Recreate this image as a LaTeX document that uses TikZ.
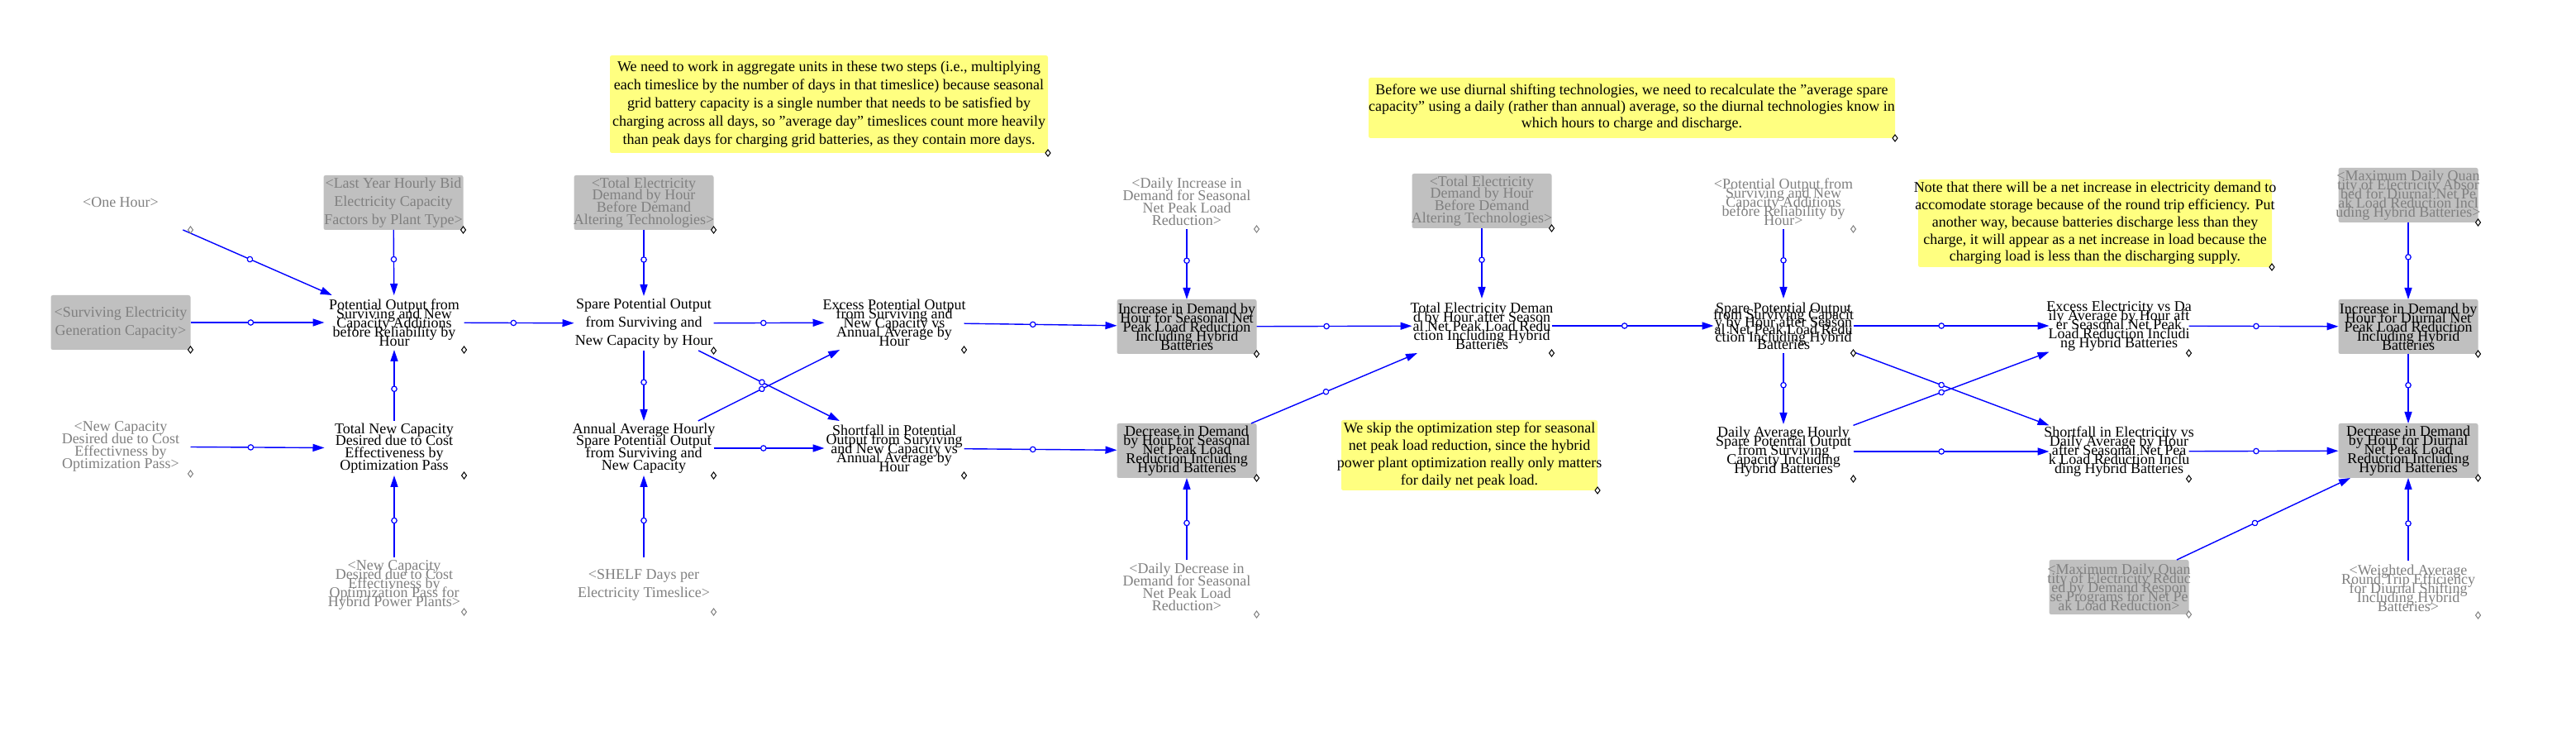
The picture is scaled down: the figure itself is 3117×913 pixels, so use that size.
\documentclass[tikz,border=0pt]{standalone}
\usepackage{fontspec}
\setmainfont{Liberation Serif}
\usetikzlibrary{arrows.meta,decorations.markings}
\definecolor{vblue}{RGB}{0,0,255}
\definecolor{vgray}{RGB}{128,128,128}
\definecolor{vbox}{RGB}{192,192,192}
\definecolor{vnote}{RGB}{255,255,128}
\newcommand{\vlines}[2]{\hbox to 0pt{\hss\vbox{\baselineskip=#1\lineskiplimit=-\maxdimen\let\\\cr\halign{\hfil##\hfil\cr#2\crcr}}\hss}}
\newcommand{\cmk}[2][black]{\draw[#1, fill=white, line width=0.5pt] (#2.south east) ++(0,-4) -- ++(3,4) -- ++(-3,4) -- ++(-3,-4) -- cycle;}
\tikzset{
  nb/.style={rectangle, minimum width=84.5pt, minimum height=33pt, inner sep=0pt, outer sep=0pt, font=\fontsize{9}{11}\selectfont},
  var/.style={nb, text=black},
  shad/.style={nb, text=vgray},
  boxed/.style={nb, fill=vbox, rounded corners=1.2pt, text=black},
  shadbox/.style={nb, fill=vbox, rounded corners=1.2pt, text=vgray},
  note/.style={rectangle, fill=vnote, rounded corners=1.2pt, inner sep=0pt, outer sep=0pt, text=black, font=\fontsize{9}{11}\selectfont},
  link/.style={draw=vblue, line width=0.7pt, -{Triangle[length=7pt,width=4.5pt]},
    postaction={decorate},
    decoration={markings, mark=at position 0.45 with {\draw[vblue, fill=white, line width=0.6pt] (0,0) circle (1.6pt);}}},
}
\begin{document}
\begin{tikzpicture}[x=0.5pt,y=-0.5pt]
\useasboundingbox (0,0) rectangle (3117,913);

% notes
\node[note, minimum width=265pt, minimum height=59pt] (n1) at (1003,126) {\vlines{11pt}{We need to work in aggregate units in these two steps (i.e., multiplying\\each timeslice by the number of days in that timeslice) because seasonal\\grid battery capacity is a single number that needs to be satisfied by\\charging across all days, so "average day" timeslices count more heavily\\than peak days for charging grid batteries, as they contain more days.}};
\node[note, minimum width=318.5pt, minimum height=36.5pt] (n2) at (1974.5,130.5) {\vlines{10pt}{Before we use diurnal shifting technologies, we need to recalculate the "average spare\\capacity" using a daily (rather than annual) average, so the diurnal technologies know in\\which hours to charge and discharge.}};
\node[note, minimum width=214pt, minimum height=53pt] (n3) at (2535,270) {\vlines{10.4pt}{Note that there will be a net increase in electricity demand to\\accomodate storage because of the round trip efficiency. Put\\another way, because batteries discharge less than they\\charge, it will appear as a net increase in load because the\\charging load is less than the discharging supply.}};
\node[note, minimum width=155pt, minimum height=42.5pt] (n4) at (1778,550.5) {\vlines{10.5pt}{We skip the optimization step for seasonal\\net peak load reduction, since the hybrid\\power plant optimization really only matters\\for daily net peak load.}};

% variables
\node[shad] (oneh) at (146,245) {\vlines{11pt}{<One Hour>}};
\node[shadbox] (lastyr) at (476,245) {\vlines{11pt}{<Last Year Hourly Bid\\Electricity Capacity\\Factors by Plant Type>}};
\node[shadbox] (surv) at (146,390) {\vlines{11pt}{<Surviving Electricity\\Generation Capacity>}};
\node[var] (po) at (477,390) {\vlines{5.5pt}{Potential Output from\\Surviving and New\\Capacity Additions\\before Reliability by\\Hour}};
\node[shad] (newcap) at (146,540) {\vlines{7.4pt}{<New Capacity\\Desired due to Cost\\Effectivness by\\Optimization Pass>}};
\node[var] (tnc) at (477,542) {\vlines{7.4pt}{Total New Capacity\\Desired due to Cost\\Effectiveness by\\Optimization Pass}};
\node[shad] (newhyb) at (477,707) {\vlines{5.5pt}{<New Capacity\\Desired due to Cost\\Effectivness by\\Optimization Pass for\\Hybrid Power Plants>}};
\node[shadbox] (totdem) at (779,245) {\vlines{7.4pt}{<Total Electricity\\Demand by Hour\\Before Demand\\Altering Technologies>}};
\node[var] (spare) at (779,391) {\vlines{11pt}{Spare Potential Output\\from Surviving and\\New Capacity by Hour}};
\node[var] (annavg) at (779,542) {\vlines{7.4pt}{Annual Average Hourly\\Spare Potential Output\\from Surviving and\\New Capacity}};
\node[shad] (shelf) at (779,707) {\vlines{11pt}{<SHELF Days per\\Electricity Timeslice>}};
\node[var] (excess) at (1082,390) {\vlines{5.5pt}{Excess Potential Output\\from Surviving and\\New Capacity vs\\Annual Average by\\Hour}};
\node[var] (short) at (1082,542) {\vlines{5.5pt}{Shortfall in Potential\\Output from Surviving\\and New Capacity vs\\Annual Average by\\Hour}};
\node[shad] (dinc) at (1436,244) {\vlines{7.4pt}{<Daily Increase in\\Demand for Seasonal\\Net Peak Load\\Reduction>}};
\node[boxed] (incs) at (1436,395) {\vlines{5.5pt}{Increase in Demand by\\Hour for Seasonal Net\\Peak Load Reduction\\Including Hybrid\\Batteries}};
\node[boxed] (decs) at (1436,545) {\vlines{5.5pt}{Decrease in Demand\\by Hour for Seasonal\\Net Peak Load\\Reduction Including\\Hybrid Batteries}};
\node[shad] (ddec) at (1436,710) {\vlines{7.4pt}{<Daily Decrease in\\Demand for Seasonal\\Net Peak Load\\Reduction>}};
\node[shadbox] (totdemb) at (1793,243) {\vlines{7.4pt}{<Total Electricity\\Demand by Hour\\Before Demand\\Altering Technologies>}};
\node[var] (teafter) at (1793,394) {\vlines{5.5pt}{Total Electricity Deman\\d by Hour after Season\\al Net Peak Load Redu\\ction Including Hybrid\\Batteries}};
\node[shad] (potout) at (2158,244) {\vlines{5.5pt}{<Potential Output from\\Surviving and New\\Capacity Additions\\before Reliability by\\Hour>}};
\node[var] (spare2) at (2158,394) {\vlines{4.4pt}{Spare Potential Output\\from Surviving Capacit\\y by Hour after Season\\al Net Peak Load Redu\\ction Including Hybrid\\Batteries}};
\node[var] (davg) at (2158,546) {\vlines{5.5pt}{Daily Average Hourly\\Spare Potential Output\\from Surviving\\Capacity Including\\Hybrid Batteries}};
\node[var] (exel) at (2564,394) {\vlines{5.5pt}{Excess Electricity vs Da\\ily Average by Hour aft\\er Seasonal Net Peak\\Load Reduction Includi\\ng Hybrid Batteries}};
\node[var] (shel) at (2564,546) {\vlines{5.5pt}{Shortfall in Electricity vs\\Daily Average by Hour\\after Seasonal Net Pea\\k Load Reduction Inclu\\ding Hybrid Batteries}};
\node[shadbox] (maxabs) at (2914,236) {\vlines{5.5pt}{<Maximum Daily Quan\\tity of Electricity Absor\\bed for Diurnal Net Pe\\ak Load Reduction Incl\\uding Hybrid Batteries>}};
\node[boxed] (incd) at (2914,395) {\vlines{5.5pt}{Increase in Demand by\\Hour for Diurnal Net\\Peak Load Reduction\\Including Hybrid\\Batteries}};
\node[boxed] (decd) at (2914,545) {\vlines{5.5pt}{Decrease in Demand\\by Hour for Diurnal\\Net Peak Load\\Reduction Including\\Hybrid Batteries}};
\node[shadbox] (maxdr) at (2564,710) {\vlines{5.5pt}{<Maximum Daily Quan\\tity of Electricity Reduc\\ed by Demand Respon\\se Programs for Net Pe\\ak Load Reduction>}};
\node[shad] (wavg) at (2914,711) {\vlines{5.5pt}{<Weighted Average\\Round Trip Efficiency\\for Diurnal Shifting\\Including Hybrid\\Batteries>}};

% connectors
\draw[link] (oneh) -- (po);
\draw[link] (lastyr) -- (po);
\draw[link] (surv) -- (po);
\draw[link] (tnc) -- (po);
\draw[link] (newcap) -- (tnc);
\draw[link] (newhyb) -- (tnc);
\draw[link] (po) -- (spare);
\draw[link] (totdem) -- (spare);
\draw[link] (spare) -- (excess);
\draw[link] (spare) -- (annavg);
\draw[link] (shelf) -- (annavg);
\draw[link] (annavg) -- (short);
\draw[link] (spare) -- (short);
\draw[link] (annavg) -- (excess);
\draw[link] (excess) -- (incs);
\draw[link] (short) -- (decs);
\draw[link] (dinc) -- (incs);
\draw[link] (ddec) -- (decs);
\draw[link] (incs) -- (teafter);
\draw[link] (decs) -- (teafter);
\draw[link] (totdemb) -- (teafter);
\draw[link] (teafter) -- (spare2);
\draw[link] (potout) -- (spare2);
\draw[link] (spare2) -- (davg);
\draw[link] (spare2) -- (exel);
\draw[link] (davg) -- (shel);
\draw[link] (spare2) -- (shel);
\draw[link] (davg) -- (exel);
\draw[link] (exel) -- (incd);
\draw[link] (shel) -- (decd);
\draw[link] (maxabs) -- (incd);
\draw[link] (incd) -- (decd);
\draw[link] (maxdr) -- (decd);
\draw[link] (wavg) -- (decd);

% corner handles
\foreach \n in {n1,n2,n3,n4,po,tnc,spare,annavg,excess,short,incs,decs,teafter,spare2,davg,exel,shel,incd,decd,lastyr,surv,totdem,totdemb,maxabs}{\cmk{\n}}
\foreach \n in {oneh,newcap,newhyb,shelf,dinc,ddec,potout,maxdr,wavg}{\cmk[vgray]{\n}}
\end{tikzpicture}
\end{document}
